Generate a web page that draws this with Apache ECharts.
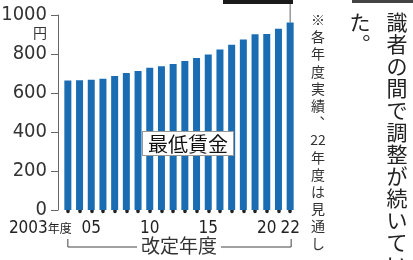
<!DOCTYPE html>
<html>
<head>
<meta charset="utf-8">
<script src="https://cdn.jsdelivr.net/npm/echarts@6/dist/echarts.min.js"></script>
<style>
  body {margin:0;padding:0;background:#fff;overflow:hidden;}
  #main {width:413px;height:260px;}
</style>
</head>
<body>
<div id="main"></div>
<script>
// 改定年度ごとの最低賃金（全国加重平均、円）
const years = ['2003','2004','2005','2006','2007','2008','2009','2010','2011','2012',
               '2013','2014','2015','2016','2017','2018','2019','2020','2021','2022'];
const wages = [664,665,668,673,687,703,713,730,737,749,764,780,798,823,848,874,901,902,930,961];
// 表示する目盛りラベル（空文字は非表示）
const xTickLabels = ['2003年度','','05','','','','','10','','','','','15','','','','','20','','22'];
const yUnit = '円';
const seriesLabel = '最低賃金';
const axisTitle = '改定年度';
const noteChars = ['※','各','年','度','実','績','︑','22','年','度','は','見','通','し'];
const bodyCol1 = ['識','者','の','間','で','調','整','が','続','い','て','い'];
const bodyCol2 = ['た','︒'];

const numFont = '"Liberation Sans Narrow", "DejaVu Sans Condensed", sans-serif';
const jpFont = '"Noto Sans CJK JP", sans-serif';
const barColor = '#1a6db3';

let myChart = echarts.init(document.getElementById('main'));

let option = {
    animation: false,
    grid: {left: 62, right: 117, top: 15, bottom: 50, outerBoundsMode: 'none'},
    xAxis: {
        type: 'category',
        data: years,
        offset: 3,
        // 軸線は見せず、目盛りを点として出す
        axisLine: {show: true, lineStyle: {color: 'rgba(0,0,0,0)', width: 0}},
        axisTick: {
            show: true, interval: 0, alignWithLabel: true, length: 1.5,
            lineStyle: {color: '#222', width: 3.5, cap: 'round'}
        },
        axisLabel: {
            interval: function (i) { return xTickLabels[i] !== ''; },
            margin: 7,
            color: '#222',
            fontFamily: numFont,
            fontSize: 17,
            formatter: function (v, i) {
                let t = xTickLabels[i];
                if (t.indexOf('年度') > 0) {
                    return '{n|' + t.replace('年度', '') + '}{j|年度}';
                }
                return t;
            },
            rich: {
                n: {fontFamily: numFont, fontSize: 17, color: '#222'},
                j: {fontFamily: jpFont, fontSize: 12, color: '#222', padding: [0, 55, 0, 0]}
            }
        }
    },
    yAxis: {
        type: 'value',
        min: 0, max: 1000, interval: 200,
        offset: 4,
        name: yUnit,
        nameLocation: 'end',
        nameGap: -17.5,
        nameTextStyle: {
            fontFamily: jpFont, fontSize: 14, color: '#333',
            align: 'right', verticalAlign: 'middle', padding: [0, 11, 0, 0]
        },
        axisLine: {show: true, lineStyle: {color: '#666', width: 1}},
        axisTick: {show: true, length: 7, lineStyle: {color: '#666', width: 1}},
        splitLine: {show: false},
        axisLabel: {
            margin: 11, color: '#333', fontFamily: numFont, fontSize: 20,
            formatter: function (v) { return String(v); }
        }
    },
    series: [{
        type: 'bar',
        name: seriesLabel,
        data: wages,
        barWidth: 7,
        itemStyle: {color: barColor}
    }]
};

myChart.setOption(option);

// 注記類は軸の座標から配置
let lastIdx = wages.length - 1;
let lastTop = myChart.convertToPixel({seriesIndex: 0}, [lastIdx, wages[lastIdx]]);
let firstBase = myChart.convertToPixel({seriesIndex: 0}, [0, 0]);
let lineY = 247;

myChart.setOption({
    graphic: [
        // 上部の見出し枠（切れている）
        {type: 'rect', shape: {x: 223, y: 0, width: 70, height: 4}, style: {fill: '#1a1a1a'}},
        {type: 'line', shape: {x1: lastTop[0], y1: 4, x2: lastTop[0], y2: lastTop[1]}, style: {stroke: '#666', lineWidth: 1}},
        {type: 'rect', shape: {x: 352, y: 0, width: 61, height: 3}, style: {fill: '#444'}},
        // 系列ラベル
        {
            type: 'text', x: 143, y: 132, z: 10,
            style: {
                text: seriesLabel, font: '20px ' + jpFont, fill: '#111',
                backgroundColor: '#fff', borderColor: '#999', borderWidth: 1,
                padding: [2, 5, 1, 5], align: 'left', verticalAlign: 'top'
            }
        },
        // 改定年度のブラケット
        {type: 'polyline', shape: {points: [[firstBase[0], lineY - 8], [firstBase[0], lineY], [lastTop[0] + 1, lineY], [lastTop[0] + 1, lineY - 8]]},
         style: {stroke: '#444', lineWidth: 1, fill: null}},
        {
            type: 'text', x: (firstBase[0] + lastTop[0]) / 2, y: lineY - 1, z: 10,
            style: {
                text: axisTitle, font: '19px ' + jpFont, fill: '#333',
                backgroundColor: '#fff', padding: [0, 4],
                align: 'center', verticalAlign: 'middle'
            }
        },
        // 縦書きの注記
        {
            type: 'text', x: 318, y: 11,
            style: {
                text: noteChars.join('\n'), font: '14px ' + jpFont, fill: '#333',
                lineHeight: 17.2, align: 'center', verticalAlign: 'top'
            }
        },
        // 本文（縦書き）
        {
            type: 'text', x: 397, y: 11,
            style: {
                text: bodyCol1.join('\n'), font: '21px ' + jpFont, fill: '#222',
                lineHeight: 22, align: 'center', verticalAlign: 'top'
            }
        },
        {
            type: 'text', x: 360, y: 11,
            style: {
                text: bodyCol2.join('\n'), font: '21px ' + jpFont, fill: '#222',
                lineHeight: 22, align: 'center', verticalAlign: 'top'
            }
        }
    ]
});

window.onresize = myChart.resize;
</script>
</body>
</html>
